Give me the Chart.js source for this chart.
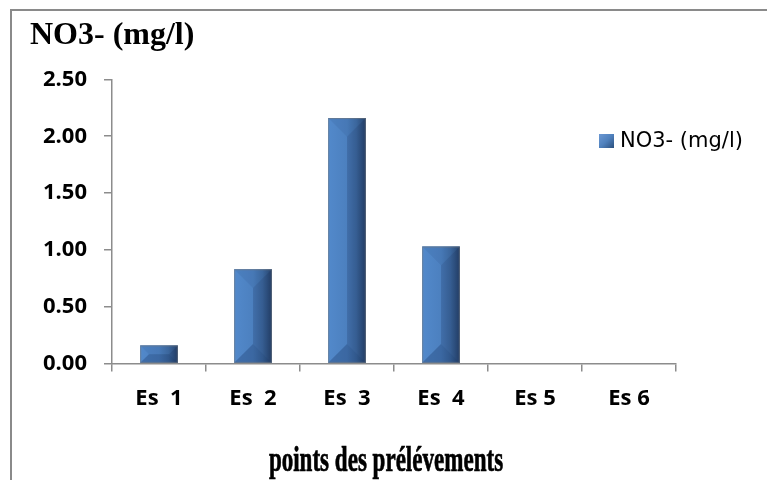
<!DOCTYPE html>
<html>
<head>
<meta charset="utf-8">
<script src="https://cdn.jsdelivr.net/npm/chart.js@4.4.1/dist/chart.umd.min.js"></script>
<style>
  html, body { margin: 0; padding: 0; background: #fff; }
  #wrap { position: relative; width: 767px; height: 480px; overflow: hidden; }
  #frame { position: absolute; left: 10px; top: 9px; width: 800px; height: 520px;
           border-left: 2px solid #8a8a8a; border-top: 2px solid #8a8a8a; }
  #legend { position: absolute; left: 599px; top: 128px; font: 21px "DejaVu Sans", sans-serif;
            color: #000; white-space: nowrap; }
  #legend span.box { display: inline-block; width: 15px; height: 14px; vertical-align: -1px; margin-right: 6px;
            background: linear-gradient(135deg, #6c98d3 0%, #4f81bd 50%, #2b4f7d 100%); }
</style>
</head>
<body>
<div id="wrap">
  <div id="frame"></div>
  <canvas id="myChart" width="767" height="480"></canvas>
  <div id="legend"><span class="box"></span>NO3- (mg/l)</div>
</div>
<script>
// valeurs
var points = ['Es  1', 'Es  2', 'Es  3', 'Es  4', 'Es 5', 'Es 6'];
var nitrates = [0.16, 0.83, 2.16, 1.03, 0, 0];
var seriesName = 'NO3- (mg/l)';
var chartTitle = 'NO3- (mg/l)';
var xTitle = 'points des prélévements';

var axisGray = '#8c8c8c';
var tickFont = { family: '"Open Sans", sans-serif', size: 22, weight: 'bold' };

// bevel + gradient on top of the bars (excel look)
var bevelBars = {
  id: 'bevelBars',
  afterDatasetsDraw: function(chart) {
    var ctx = chart.ctx;
    chart.getDatasetMeta(0).data.forEach(function(bar) {
      var p = bar.getProps(['x', 'y', 'base', 'width'], true);
      var l = p.x - p.width / 2, r = p.x + p.width / 2;
      var t = p.y, b = p.base;
      var h = b - t;
      if (!isFinite(l) || h < 1) return;
      var bv = Math.min(p.width / 2, h / 2, 19);
      ctx.save();
      var g = ctx.createLinearGradient(l, 0, r, 0);
      g.addColorStop(0, '#5289cb');
      g.addColorStop(0.5, '#4c80bf');
      g.addColorStop(0.75, '#3f6ca3');
      g.addColorStop(1, '#28466f');
      ctx.fillStyle = g;
      ctx.fillRect(l, t, p.width, h);
      // top
      ctx.fillStyle = 'rgba(30,60,110,0.10)';
      ctx.beginPath(); ctx.moveTo(l, t); ctx.lineTo(r, t); ctx.lineTo(r - bv, t + bv); ctx.lineTo(l + bv, t + bv); ctx.closePath(); ctx.fill();
      // right
      ctx.fillStyle = 'rgba(0,10,40,0.14)';
      ctx.beginPath(); ctx.moveTo(r, t); ctx.lineTo(r - bv, t + bv); ctx.lineTo(r - bv, b - bv); ctx.lineTo(r, b); ctx.closePath(); ctx.fill();
      // bottom
      ctx.fillStyle = 'rgba(0,20,60,0.22)';
      ctx.beginPath(); ctx.moveTo(l, b); ctx.lineTo(r, b); ctx.lineTo(r - bv, b - bv); ctx.lineTo(l + bv, b - bv); ctx.closePath(); ctx.fill();
      // thin grey edge
      ctx.strokeStyle = 'rgba(120,120,120,0.55)';
      ctx.lineWidth = 1;
      ctx.strokeRect(l + 0.5, t + 0.5, p.width - 1, h - 1);
      ctx.restore();
    });
  }
};

// axis title, narrow bold serif
var xAxisTitle = {
  id: 'xAxisTitle',
  afterDraw: function(chart) {
    var ctx = chart.ctx;
    ctx.save();
    ctx.font = 'bold 36px "Liberation Serif", "Times New Roman", serif';
    ctx.fillStyle = '#000';
    ctx.strokeStyle = '#000';
    ctx.lineWidth = 0.7;
    ctx.textAlign = 'center';
    ctx.textBaseline = 'alphabetic';
    ctx.translate(386, 471);
    ctx.scale(0.64, 1);
    ctx.fillText(xTitle, 0, 0);
    ctx.strokeText(xTitle, 0, 0);
    ctx.restore();
  }
};

var myChart = document.getElementById('myChart').getContext('2d');

var chart = new Chart(myChart, {
  type: 'bar',
  data: {
    labels: points,
    datasets: [{
      label: seriesName,
      data: nitrates,
      backgroundColor: '#4c80bf',
      borderWidth: 0,
      barPercentage: 0.4,
      categoryPercentage: 1.0
    }]
  },
  options: {
    responsive: false,
    animation: false,
    layout: { padding: { left: 30, right: 91, top: 0, bottom: 54 } },
    plugins: {
      legend: { display: false },
      tooltip: { enabled: false },
      title: {
        display: true,
        text: chartTitle,
        align: 'start',
        color: '#000',
        font: { family: '"Liberation Serif", "Times New Roman", serif', size: 32, weight: 'bold' },
        padding: { top: 17, bottom: 24 }
      }
    },
    scales: {
      x: {
        grid: { drawOnChartArea: false, drawTicks: true, tickLength: 8, color: axisGray, lineWidth: 1.5 },
        border: { color: axisGray, width: 1.5 },
        ticks: { color: '#000', padding: 14, font: tickFont }
      },
      y: {
        min: 0,
        max: 2.5,
        afterFit: function(s) { s.width = 82; },
        grid: { drawOnChartArea: false, drawTicks: true, tickLength: 8, color: axisGray, lineWidth: 1.5 },
        border: { color: axisGray, width: 1.5 },
        ticks: {
          stepSize: 0.5,
          color: '#000',
          padding: 17,
          font: tickFont,
          callback: function(v) { return v.toFixed(2); }
        }
      }
    }
  },
  plugins: [bevelBars, xAxisTitle]
});
</script>
</body>
</html>
